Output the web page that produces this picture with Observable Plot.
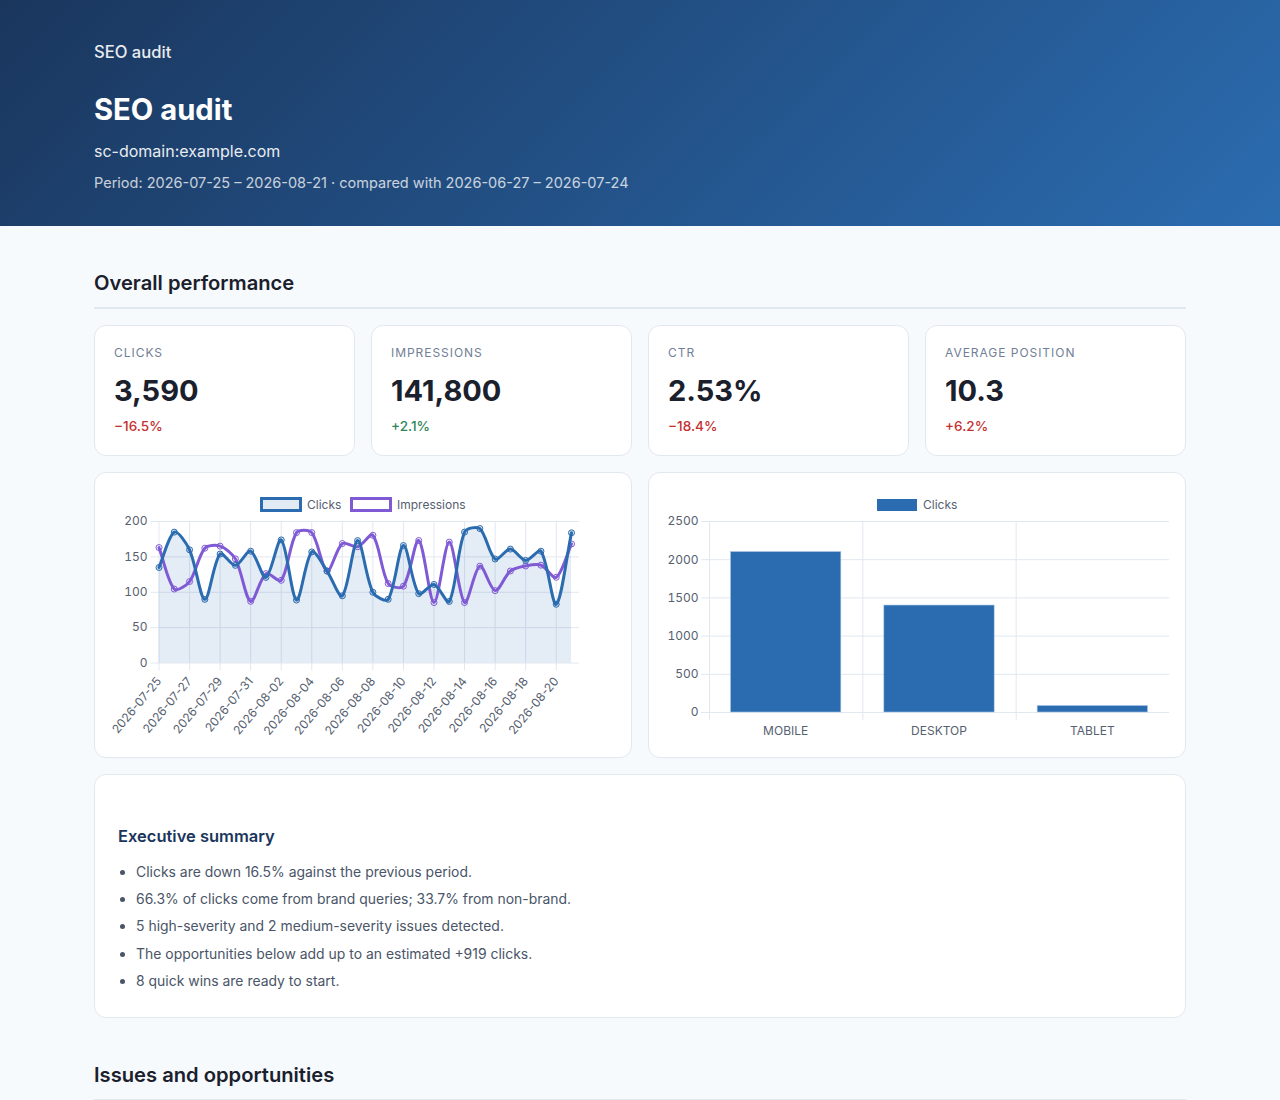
<!DOCTYPE html>
<html><head><meta charset="utf-8">
<script src="https://cdn.jsdelivr.net/npm/d3@7"></script>
<script src="https://cdn.jsdelivr.net/npm/@observablehq/plot@0.6"></script>
<style>
*{box-sizing:border-box}
html,body{margin:0;padding:0;height:1100px;overflow:hidden;background:#f7fafc;font-family:Inter,sans-serif;color:#1a202c}
header{height:226px;background:linear-gradient(135deg,#1a365d,#2b6cb0);color:#fff;position:relative}
header div{position:absolute;left:94px;white-space:nowrap}
.abs{position:absolute}
.card{position:absolute;background:#fff;border:1px solid #e2e8f0;border-radius:12px}
h2{position:absolute;left:94px;width:1092px;margin:0;font-size:20.16px;font-weight:600;line-height:24px;color:#1a202c;border-bottom:2px solid #e2e8f0;padding-bottom:12px}
.kl{position:absolute;left:19px;top:20px;font-size:12px;line-height:14px;letter-spacing:.96px;text-transform:uppercase;color:#718096}
.kv{position:absolute;left:19px;top:47px;font-size:29px;line-height:36px;font-weight:700;color:#1a202c}
.kd{position:absolute;left:19px;top:92px;font-size:13.6px;line-height:16px;font-weight:500}
.legend{position:absolute;font-size:12px;line-height:14px;color:#556070;white-space:nowrap}
.legend i{position:absolute;display:block}
.plot{position:absolute;left:0;top:0}
svg{overflow:visible}
ul{position:absolute;left:23px;top:83px;margin:0;padding:0 0 0 18px;font-size:13.95px;color:#4a5568}
li{height:27.2px;line-height:27.2px}
h3{position:absolute;left:23px;top:51px;margin:0;font-size:16.5px;line-height:20px;font-weight:600;color:#1a365d}
</style></head><body>
<header>
<div style="top:42px;font-size:16.6px;line-height:20px;font-weight:500;opacity:.9">SEO audit</div>
<div style="top:91px;font-size:29.2px;line-height:38px;font-weight:700">SEO audit</div>
<div style="top:141px;font-size:16px;line-height:20px;opacity:.9">sc-domain:example.com</div>
<div style="top:174px;font-size:14.5px;line-height:18px;opacity:.75">Period: 2026-07-25 – 2026-08-21 · compared with 2026-06-27 – 2026-07-24</div>
</header>
<h2 style="top:271px">Overall performance</h2>
<div id="kpis"></div>
<div class="card" id="lineCard" style="left:94px;top:472px;width:538px;height:286px"></div>
<div class="card" id="barCard" style="left:648px;top:472px;width:538px;height:286px"></div>
<div class="card" style="left:94px;top:774px;width:1092px;height:244px">
<h3>Executive summary</h3>
<ul id="summary"></ul>
</div>
<h2 style="top:1063px">Issues and opportunities</h2>
<script>
const kpiLabels=["Clicks","Impressions","CTR","Average position"];
const kpiValues=["3,590","141,800","2.53%","10.3"];
const kpiDeltas=["−16.5%","+2.1%","−18.4%","+6.2%"];
const kpiGood=[false,true,false,false];
const summaryItems=["Clicks are down 16.5% against the previous period.","66.3% of clicks come from brand queries; 33.7% from non-brand.","5 high-severity and 2 medium-severity issues detected.","The opportunities below add up to an estimated +919 clicks.","8 quick wins are ready to start."];
const dates=["2026-07-25","2026-07-26","2026-07-27","2026-07-28","2026-07-29","2026-07-30","2026-07-31","2026-08-01","2026-08-02","2026-08-03","2026-08-04","2026-08-05","2026-08-06","2026-08-07","2026-08-08","2026-08-09","2026-08-10","2026-08-11","2026-08-12","2026-08-13","2026-08-14","2026-08-15","2026-08-16","2026-08-17","2026-08-18","2026-08-19","2026-08-20","2026-08-21"];
const clicks=[135,185,160,90,154,138,158,121,174,89,157,130,95,173,100,90,166,98,111,87,185,190,147,161,145,158,83,184];
const impressions=[5710,3660,4030,5680,5780,5150,3050,4420,4090,6450,6450,4550,5910,5750,6320,3930,3800,6060,2990,5980,2990,4790,3580,4550,4800,4840,4240,5890];
const leftTicks=[0,50,100,150,200];
const rightTicks=[0,1000,2000,3000,4000,5000,6000,7000];
const devices=["MOBILE","DESKTOP","TABLET"];
const deviceClicks=[2100,1400,85];
const deviceTicks=[0,500,1000,1500,2000,2500];
const blue="#2b6cb0",purple="#805ad5",grid="#e2e8f0",tickText="#556070";

document.getElementById("kpis").innerHTML=kpiLabels.map((l,i)=>`<div class="card" style="left:${94+277*i}px;top:325px;width:261px;height:131px"><div class="kl">${l}</div><div class="kv">${kpiValues[i]}</div><div class="kd" style="color:${kpiGood[i]?"#2f855a":"#c53030"}">${kpiDeltas[i]}</div></div>`).join("");
document.getElementById("summary").innerHTML=summaryItems.map(s=>`<li>${s}</li>`).join("");

// Chart.js-style spline, usable for lines and areas
function chartSpline(context){
  let pts=[],inArea=false,lineNo=0;
  return {
    lineStart(){pts=[]},
    lineEnd(){
      const t=0.3,n=pts.length;
      const cp=pts.map((p,i)=>{
        const a=pts[Math.max(i-1,0)],b=pts[Math.min(i+1,n-1)];
        const d01=Math.hypot(p[0]-a[0],p[1]-a[1]),d12=Math.hypot(b[0]-p[0],b[1]-p[1]);
        const s=d01+d12||1,fa=t*d01/s,fb=t*d12/s;
        return [[p[0]-fa*(b[0]-a[0]),p[1]-fa*(b[1]-a[1])],[p[0]+fb*(b[0]-a[0]),p[1]+fb*(b[1]-a[1])]];
      });
      pts.forEach((p,i)=>{
        if(i===0){ if(inArea&&lineNo>0)context.lineTo(p[0],p[1]); else context.moveTo(p[0],p[1]); }
        else context.bezierCurveTo(cp[i-1][1][0],cp[i-1][1][1],cp[i][0][0],cp[i][0][1],p[0],p[1]);
      });
      lineNo++;
    },
    areaStart(){inArea=true;lineNo=0},
    areaEnd(){context.closePath();inArea=false},
    point(x,y){pts.push([+x,+y])}
  };
}
const rows=dates.map((d,i)=>({date:d,clicks:clicks[i],impressions:impressions[i],imp:impressions[i]*200/7000}));
const labelled=dates.filter((d,i)=>i%2===0);
const font={fontFamily:"Inter,sans-serif",fontSize:12};

const linePlot=Plot.plot({
  width:536,height:240,marginTop:11,marginBottom:87.5,marginLeft:63.5,marginRight:60,
  style:{...font,background:"transparent",color:tickText},
  x:{type:"point",domain:dates,padding:0,round:false,axis:null},
  y:{domain:[0,200],axis:null},
  marks:[
    Plot.ruleY(leftTicks,{y:d=>d,stroke:grid,strokeWidth:1,insetLeft:-8,insetRight:-8}),
    Plot.ruleX(labelled,{x:d=>d,y1:200,y2:0,stroke:grid,strokeWidth:1,insetBottom:-8}),
    Plot.areaY(rows,{x:"date",y1:0,y2:"clicks",fill:blue,fillOpacity:.13,curve:chartSpline}),
    Plot.line(rows,{x:"date",y:"imp",stroke:purple,strokeWidth:3,curve:chartSpline}),
    Plot.dot(rows,{x:"date",y:"imp",r:3,stroke:purple,strokeWidth:1,fill:"none"}),
    Plot.line(rows,{x:"date",y:"clicks",stroke:blue,strokeWidth:3,curve:chartSpline}),
    Plot.dot(rows,{x:"date",y:"clicks",r:3,stroke:blue,strokeWidth:1,fill:blue,fillOpacity:.14}),
    Plot.axisY(leftTicks,{anchor:"left",tickSize:0,tickPadding:11.5,label:null,color:tickText,stroke:"none",tickFormat:d=>String(d)}),
    Plot.textX(rightTicks,{frameAnchor:"right",y:d=>d*200/7000,text:d=>String(d),textAnchor:"start",dx:11,fill:tickText}),
    Plot.axisX(labelled,{anchor:"bottom",tickSize:0,tickRotate:-50,tickPadding:12,dx:-3.5,dy:1,label:null,color:tickText,stroke:"none",lineAnchor:"top"})
  ]
});
linePlot.classList.add("plot");
linePlot.style.top="37px";
document.getElementById("lineCard").append(linePlot);
document.getElementById("lineCard").insertAdjacentHTML("beforeend",`
<div class="legend" style="left:0;top:0;width:100%;height:40px">
<i style="left:165px;top:24px;width:42px;height:15px;border:3px solid ${blue};background:#e2ebf4"></i>
<span class="abs" style="left:212px;top:25px">Clicks</span>
<i style="left:255px;top:24px;width:42px;height:15px;border:3px solid ${purple};background:#fff"></i>
<span class="abs" style="left:302px;top:25px">Impressions</span>
</div>`);

const bandW=(1169-709)/3;
const barPlot=Plot.plot({
  width:536,height:240,marginTop:11,marginBottom:38,marginLeft:60,marginRight:16,
  style:{...font,background:"transparent",color:tickText},
  x:{type:"band",domain:devices,padding:0,round:false,axis:null},
  y:{domain:[0,2500],axis:null},
  marks:[
    Plot.ruleY(deviceTicks,{y:d=>d,stroke:grid,strokeWidth:1,insetLeft:-8}),
    Plot.ruleX(devices,{x:d=>d,y1:2500,y2:0,dx:-bandW/2,stroke:grid,strokeWidth:1,insetBottom:-8}),
    Plot.barY(devices,{x:d=>d,y1:0,y2:(d,i)=>deviceClicks[i],fill:blue,stroke:"#a9c6e6",strokeWidth:.6,insetLeft:21.5,insetRight:21.5}),
    Plot.axisY(deviceTicks,{anchor:"left",tickSize:0,tickPadding:11,label:null,color:tickText,stroke:"none",tickFormat:d=>String(d)}),
    Plot.axisX(devices,{anchor:"bottom",tickSize:0,tickPadding:14,dx:-.5,label:null,color:tickText,stroke:"none"})
  ]
});
barPlot.classList.add("plot");
barPlot.style.top="37px";
document.getElementById("barCard").append(barPlot);
document.getElementById("barCard").insertAdjacentHTML("beforeend",`
<div class="legend" style="left:0;top:0;width:100%;height:40px">
<i style="left:228px;top:26px;width:40px;height:12px;background:${blue}"></i>
<span class="abs" style="left:274px;top:25px">Clicks</span>
</div>`);
</script>
</body></html>
